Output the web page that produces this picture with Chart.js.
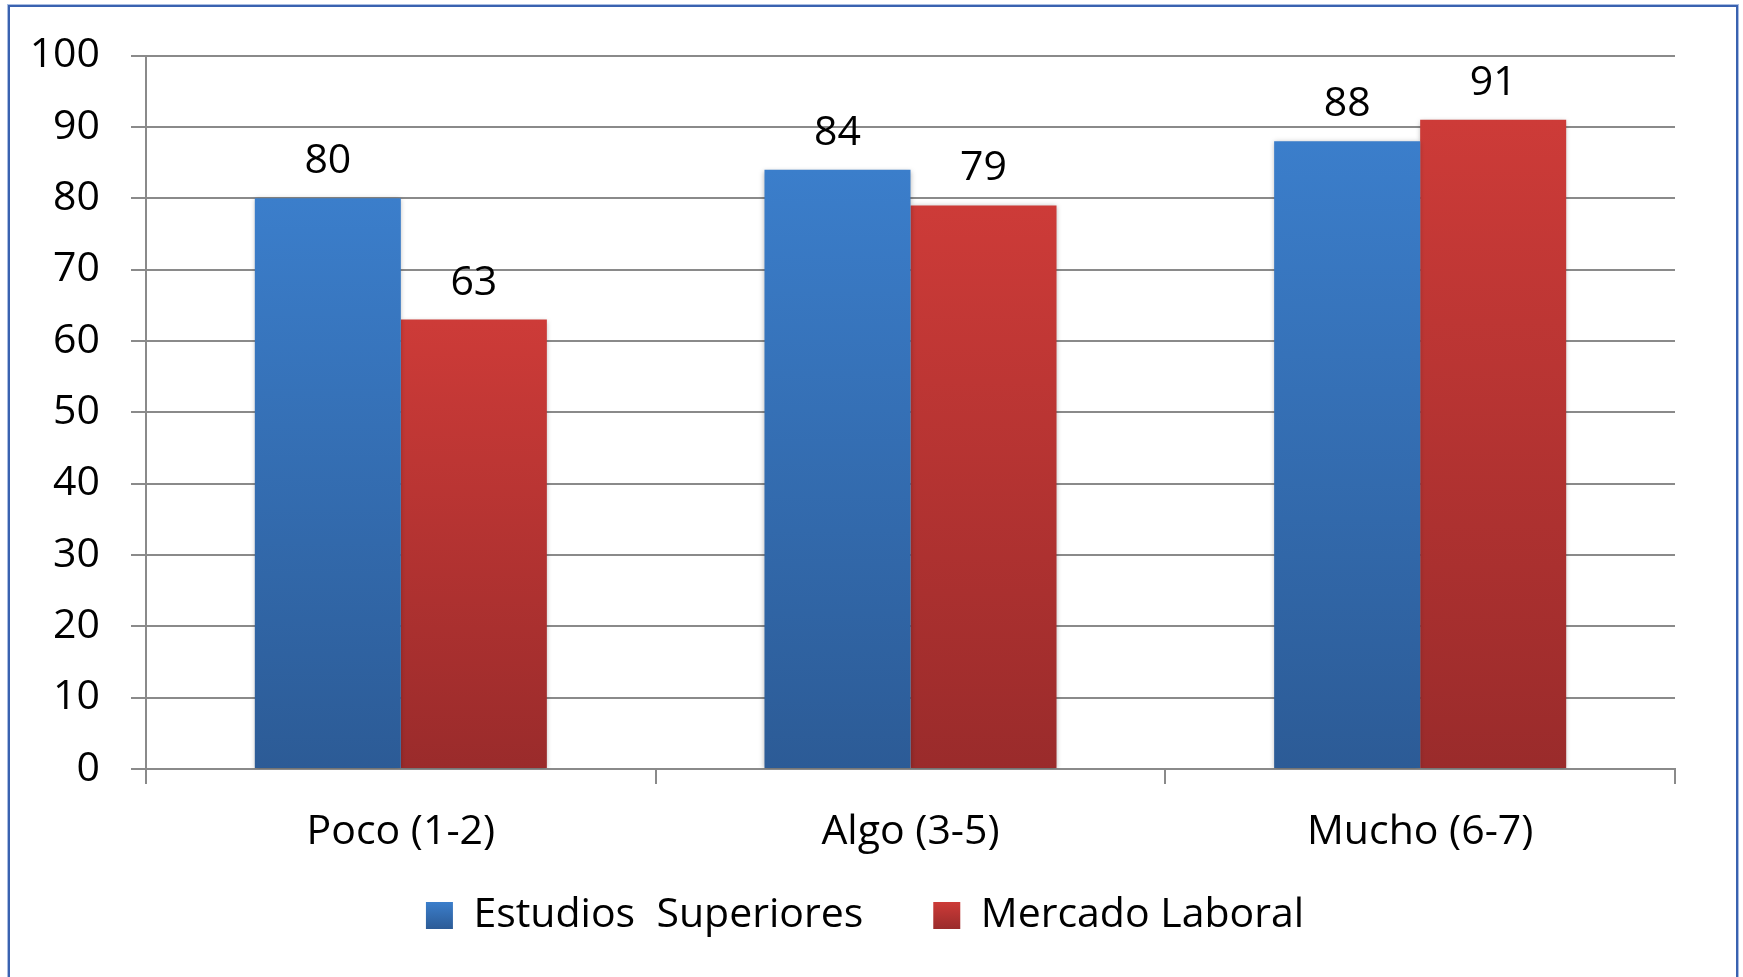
<!DOCTYPE html>
<html>
<head>
<meta charset="utf-8">
<script src="https://cdn.jsdelivr.net/npm/chart.js@4.4.1/dist/chart.umd.min.js"></script>
<style>
  html, body { margin: 0; padding: 0; background: #ffffff; overflow: hidden; }
  #wrap { position: relative; width: 1743px; height: 977px; }
  #frame { position: absolute; left: 8px; top: 5px; width: 1730px; height: 1100px; box-sizing: border-box;
           border: 2px solid #3a62b0; box-shadow: 0 0 0 1px #a9bde2; }
  #c { position: absolute; left: 0; top: 0; }
</style>
</head>
<body>
<div id="wrap">
  <div id="frame"></div>
  <canvas id="c" width="1743" height="977"></canvas>
</div>
<script>
// ---- data ----
const categories = ['Poco (1-2)', 'Algo (3-5)', 'Mucho (6-7)'];
const seriesNames = ['Estudios  Superiores', 'Mercado Laboral'];
const estudiosSuperiores = [80, 84, 88];
const mercadoLaboral = [63, 79, 91];
const yMin = 0, yMax = 100, yStep = 10;

// ---- styles ----
const FONT = 'Open Sans';
const FS = 41;
const GRID = '#8a8a8a';
const BLUE = { top: '#3b7ecb', bottom: '#2c5b96', mid: '#3470bb' };
const RED = { top: '#cd3b38', bottom: '#9a2b2b', mid: '#b83533' };
const LEG_PAD = 70, LEG_BOX = 27;

function barGradient(c) {
  return (ctx) => {
    const chart = ctx.chart;
    if (ctx.type !== 'data' || !chart.chartArea || !chart.scales.y) return c.mid;
    const ys = chart.scales.y;
    const yTop = ys.getPixelForValue(ctx.raw);
    const yBase = ys.getPixelForValue(0);
    if (!isFinite(yTop) || !isFinite(yBase) || yTop === yBase) return c.mid;
    const g = chart.ctx.createLinearGradient(0, yTop, 0, yBase);
    g.addColorStop(0, c.top);
    g.addColorStop(1, c.bottom);
    return g;
  };
}

const valueLabels = {
  id: 'valueLabels',
  afterDatasetsDraw(chart) {
    const ctx = chart.ctx;
    ctx.save();
    ctx.font = FS + 'px "' + FONT + '"';
    ctx.fillStyle = '#000';
    ctx.textAlign = 'center';
    ctx.textBaseline = 'alphabetic';
    chart.data.datasets.forEach((ds, di) => {
      const meta = chart.getDatasetMeta(di);
      meta.data.forEach((el, i) => {
        ctx.fillText(String(ds.data[i]), el.x, el.y - 25);
      });
    });
    ctx.restore();
  }
};

const barShadow = {
  id: 'barShadow',
  beforeDatasetDraw(chart) {
    const ctx = chart.ctx;
    ctx.save();
    ctx.shadowColor = 'rgba(0,0,0,0.28)';
    ctx.shadowBlur = 5;
    ctx.shadowOffsetX = 0;
    ctx.shadowOffsetY = 1;
  },
  afterDatasetDraw(chart) {
    chart.ctx.restore();
  }
};

// legend sits closer to the axis labels than its item padding would allow
const LEGEND_SHIFT = -31;
const legendShift = {
  id: 'legendShift',
  afterLayout(chart) {
    const l = chart.legend;
    if (l) { l.top += LEGEND_SHIFT; l.bottom += LEGEND_SHIFT; }
  }
};

const seriesColors = [BLUE, RED];

Chart.defaults.font.family = FONT;
Chart.defaults.font.size = FS;
Chart.defaults.color = '#000';

new Chart(document.getElementById('c'), {
  type: 'bar',
  data: {
    labels: categories,
    datasets: [
      {
        label: seriesNames[0],
        data: estudiosSuperiores,
        backgroundColor: barGradient(BLUE),
        borderWidth: 0,
        categoryPercentage: 0.573,
        barPercentage: 1.0
      },
      {
        label: seriesNames[1],
        data: mercadoLaboral,
        backgroundColor: barGradient(RED),
        borderWidth: 0,
        categoryPercentage: 0.573,
        barPercentage: 1.0
      }
    ]
  },
  options: {
    responsive: false,
    devicePixelRatio: 1,
    animation: false,
    layout: { padding: { top: 55, left: 0, right: 13, bottom: 0 } },
    plugins: {
      legend: {
        position: 'bottom',
        labels: {
          boxWidth: LEG_BOX,
          boxHeight: LEG_BOX,
          padding: LEG_PAD,
          color: '#000',
          font: { size: FS, family: FONT },
          generateLabels(chart) {
            const items = Chart.defaults.plugins.legend.labels.generateLabels(chart);
            const l = chart.legend;
            items.forEach((it, i) => {
              const c = seriesColors[i];
              if (l && isFinite(l.top)) {
                const top = l.top + LEG_PAD + Math.max((FS - LEG_BOX) / 2, 0);
                const g = chart.ctx.createLinearGradient(0, top, 0, top + LEG_BOX);
                g.addColorStop(0, c.top);
                g.addColorStop(1, c.bottom);
                it.fillStyle = g;
              } else {
                it.fillStyle = c.mid;
              }
              it.lineWidth = 0;
              it.strokeStyle = 'rgba(0,0,0,0)';
            });
            return items;
          }
        }
      },
      tooltip: { enabled: false }
    },
    scales: {
      x: {
        grid: {
          display: true,
          drawOnChartArea: false,
          drawTicks: true,
          tickLength: 15,
          color: GRID,
          lineWidth: 2,
          offset: true
        },
        border: { display: true, color: GRID, width: 2 },
        ticks: { padding: 24, color: '#000', font: { size: FS, family: FONT }, maxRotation: 0 },
        afterFit: (s) => { s.height = 87; }
      },
      y: {
        min: yMin,
        max: yMax,
        ticks: { stepSize: yStep, padding: 31, color: '#000', font: { size: FS, family: FONT } },
        grid: { color: GRID, lineWidth: 2, tickLength: 15, drawTicks: true },
        border: { display: true, color: GRID, width: 2 },
        afterFit: (s) => { s.width = 146; }
      },
      y2: {
        position: 'right',
        display: true,
        grid: { display: false },
        border: { display: false },
        ticks: { display: false },
        afterFit: (s) => { s.width = 55; }
      }
    }
  },
  plugins: [barShadow, valueLabels, legendShift]
});
</script>
</body>
</html>
